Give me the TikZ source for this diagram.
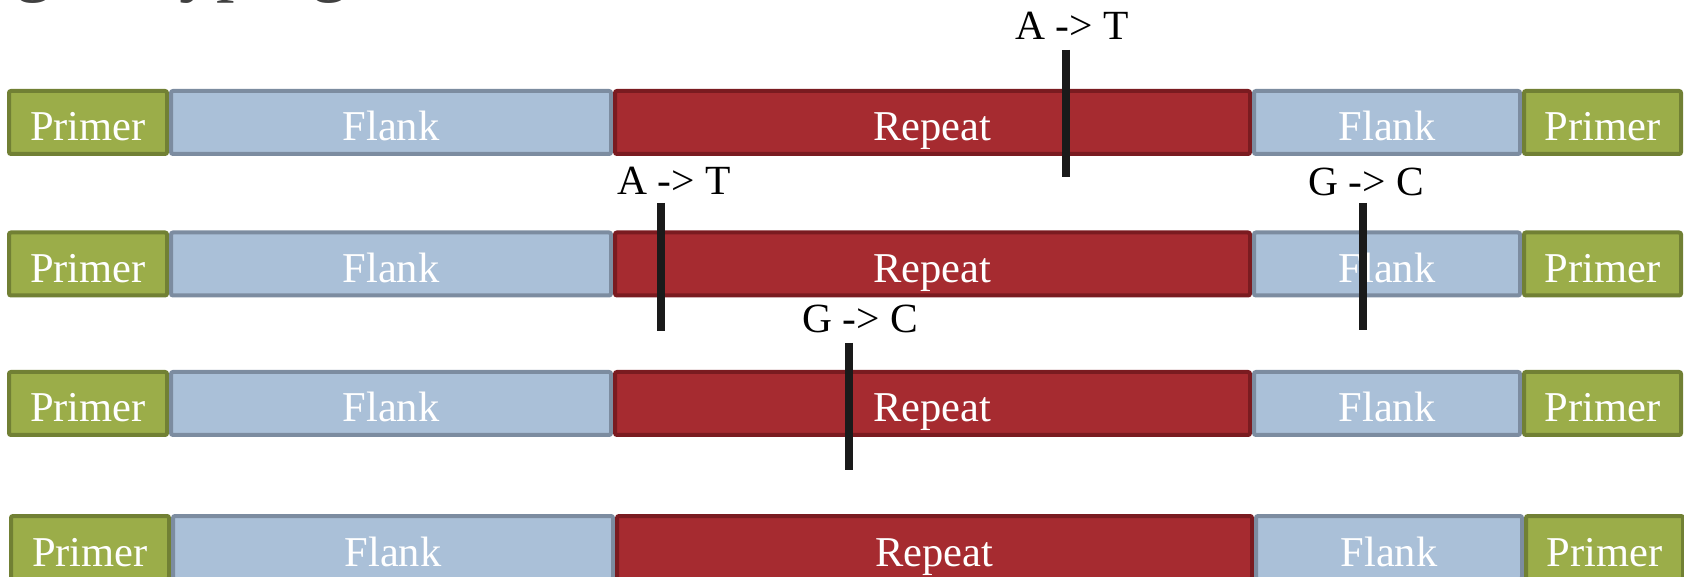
\documentclass[tikz,border=0pt]{standalone}
\usepackage{fontspec}
\setmainfont{Liberation Serif}
\definecolor{primerfill}{RGB}{155,173,73}
\definecolor{primerline}{RGB}{113,128,52}
\definecolor{flankfill}{RGB}{170,192,216}
\definecolor{flankline}{RGB}{124,140,160}
\definecolor{repeatfill}{RGB}{166,43,48}
\definecolor{repeatline}{RGB}{122,27,32}
\definecolor{barblack}{RGB}{26,26,26}
\definecolor{titlegray}{RGB}{64,64,64}
\begin{document}
\begin{tikzpicture}[x=1pt,y=1pt,
  seg/.style={rectangle, rounded corners=2pt, line width=4pt, inner sep=0pt,
    minimum height=63pt, text=white, text height=37pt, text depth=0pt,
    font=\fontsize{42.5}{50}\selectfont},
  primerseg/.style={seg, fill=primerfill, draw=primerline},
  flankseg/.style={seg, fill=flankfill, draw=flankline},
  repeatseg/.style={seg, fill=repeatfill, draw=repeatline},
  mutlabel/.style={anchor=base west, inner sep=0pt, text=black,
    font=\fontsize{41.5}{48}\selectfont},
  mutbar/.style={line width=8pt, draw=barblack}]
\useasboundingbox (0,0) rectangle (1684,576);
\clip (0,0) rectangle (1684,576);
\fill[white] (0,0) rectangle (1684,576);
% clipped slide title
\node[anchor=base west, inner sep=0pt, text=titlegray,
  font=\fontsize{74}{80}\selectfont] (title) at (15,588.5) {genotyping};
% rows
\foreach \r/\yc/\dx in {1/453.5/0, 2/312/0, 3/172.5/0, 4/28.5/2} {
  \node[primerseg, minimum width=158pt] (pa\r) at (88+\dx,\yc) {Primer};
  \node[flankseg, minimum width=440pt] (fa\r) at (391+\dx,\yc) {Flank};
  \node[repeatseg, minimum width=635pt] (rp\r) at (932.5+\dx,\yc) {Repeat};
  \node[flankseg, minimum width=266pt] (fb\r) at (1387+\dx,\yc) {Flank};
  \node[primerseg, minimum width=157pt] (pb\r) at (1602.5+\dx,\yc) {Primer};
}
% mutation marks
\coordinate (m1t) at (1066,526); \coordinate (m1b) at (1066,399);
\coordinate (m2t) at (661,373);  \coordinate (m2b) at (661,245);
\coordinate (m3t) at (1363,373); \coordinate (m3b) at (1363,246);
\coordinate (m4t) at (849,233);  \coordinate (m4b) at (849,106);
\draw[mutbar] (m1t) -- (m1b);
\draw[mutbar] (m2t) -- (m2b);
\draw[mutbar] (m3t) -- (m3b);
\draw[mutbar] (m4t) -- (m4b);
\node[mutlabel] (l1) at (1015,536) {A -> T};
\node[mutlabel] (l2) at (617,381) {A -> T};
\node[mutlabel] (l3) at (1308,380) {G -> C};
\node[mutlabel] (l4) at (802,243) {G -> C};
\end{tikzpicture}
\end{document}
